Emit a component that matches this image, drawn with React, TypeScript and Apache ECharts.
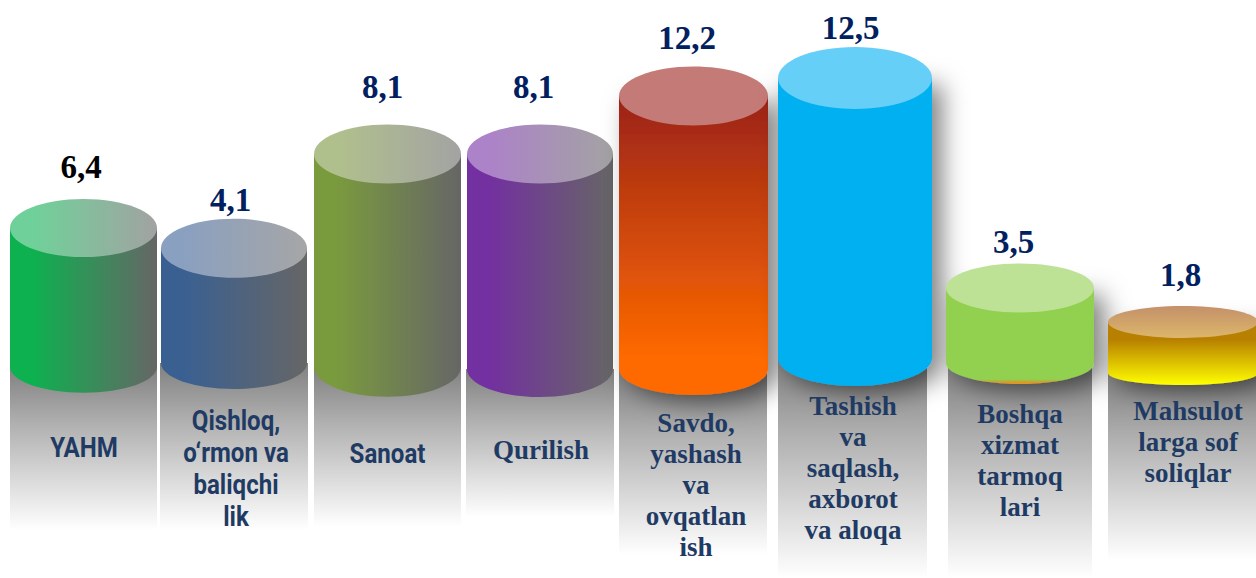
import React, { useEffect, useRef } from "react";
import * as echarts from "echarts";

// Data
const categories = [
  "YAHM",
  "Qishloq,\no‘rmon va\nbaliqchi\nlik",
  "Sanoat",
  "Qurilish",
  "Savdo,\nyashash\nva\novqatlan\nish",
  "Tashish\nva\nsaqlash,\naxborot\nva aloqa",
  "Boshqa\nxizmat\ntarmoq\nlari",
  "Mahsulot\nlarga sof\nsoliqlar",
];
const valueLabels = ["6,4", "4,1", "8,1", "8,1", "12,2", "12,5", "3,5", "1,8"];
// Height of each drawn cylinder, on the chart's hidden value axis
const topLevels = [5.74, 4.83, 9.07, 9.07, 11.68, 12.49, 3.05, 1.52];
const baseLevels = [-0.5, -0.33, -0.5, -0.6, -0.6, -0.1, -0.33, -0.78];
const reflectionEnds = [-7.84, -7.84, -7.7, -7.25, -8.96, -10, -10, -9.2];

// Styling table: not data
const side = (a: string, b = "#666666") =>
  new echarts.graphic.LinearGradient(0, 0, 1, 0, [
    { offset: 0, color: a },
    { offset: 0.15, color: a },
    { offset: 1, color: b },
  ]);
const vert = (stops: [number, string][]) =>
  new echarts.graphic.LinearGradient(0, 0, 0, 1, stops.map(([offset, color]) => ({ offset, color })));

const looks = [
  { dx: 5, hw: 73.5, ry: 29, rb: 26, body: side("#0db14f"), cap: side("#6fd199", "#a2a2a2"), lx: 2.5, ly: -61, c: "#000000", tx: 0.5, ty: 447, f: "roboto", rl: 73.5, rr: 73.5 },
  { dx: -1.5, hw: 73, ry: 29.5, rb: 26, body: side("#3a6092"), cap: side("#8aa0c0", "#a6a6a6"), lx: -5, ly: -48.5, c: "#002060", tx: 2, ty: 468, f: "roboto", rl: 74, rr: 74 },
  { dx: -5, hw: 73.5, ry: 29.5, rb: 30, body: side("#7a9a3e"), cap: side("#b0c08c", "#a3a3a3"), lx: -10, ly: -67, c: "#002060", tx: 0, ty: 453, f: "roboto", rl: 73.5, rr: 73.5 },
  { dx: -9.5, hw: 73, ry: 29.5, rb: 28, body: side("#7330a0"), cap: side("#ac82c8", "#a3a3a3"), lx: -16, ly: -67, c: "#002060", tx: 1, ty: 450, f: "serif", rl: 74, rr: 74 },
  { dx: -13, hw: 74.5, ry: 29.5, rb: 26, body: vert([[0, "#9a2218"], [0.88, "#ff6a00"], [1, "#ff6a00"]]), cap: "#c47a76", lx: -19.5, ly: -58, c: "#002060", tx: 2.5, ty: 485, f: "serif", rl: 74.5, rr: 73.5, sh: 1 },
  { dx: -8.5, hw: 77, ry: 31, rb: 28, body: "#02b0f0", cap: "#66cff8", lx: -13, ly: -50, c: "#002060", tx: -2, ty: 468, f: "serif", rl: 77, rr: 72, sh: 1 },
  { dx: -0.5, hw: 74, ry: 24.5, rb: 21, body: vert([[0, "#92d050"], [0.95, "#92d050"], [0.975, "#c0a838"], [1, "#f88a18"]]), cap: "#bde296", lx: -7, ly: -46, c: "#002060", tx: 0, ty: 460, f: "serif", rl: 72, rr: 72, sh: 1 },
  { dx: 5.5, hw: 75, ry: 16, rb: 12, body: vert([[0, "#b88000"], [0.28, "#b88000"], [1, "#ffff00"]]), cap: vert([[0, "#c4906a"], [1, "#dcb66a"]]), lx: 3, ly: -47, c: "#002060", tx: 5, ty: 442, f: "serif", rl: 75, rr: 75, sh: 1 },
];

echarts.graphic.registerShape(
  "cylBody",
  echarts.graphic.extendShape({
    shape: { cx: 0, top: 0, base: 0, hw: 0, rb: 0 },
    buildPath(ctx: any, s: any) {
      const k = 0.5523;
      ctx.moveTo(s.cx - s.hw, s.top);
      ctx.lineTo(s.cx - s.hw, s.base);
      ctx.bezierCurveTo(s.cx - s.hw, s.base + s.rb * k, s.cx - s.hw * k, s.base + s.rb, s.cx, s.base + s.rb);
      ctx.bezierCurveTo(s.cx + s.hw * k, s.base + s.rb, s.cx + s.hw, s.base + s.rb * k, s.cx + s.hw, s.base);
      ctx.lineTo(s.cx + s.hw, s.top);
      ctx.closePath();
    },
  }) as any
);

const renderItem = (_: any, api: any) => {
  const i = api.value(0);
  const look = looks[i];
  const [band, top] = api.coord([i, api.value(1)]);
  const base = api.coord([i, api.value(2)])[1];
  const end = api.coord([i, api.value(3)])[1];
  const cx = band + look.dx;
  const children: any[] = [
    {
      type: "rect",
      shape: { x: cx - look.rl, y: base, width: look.rl + look.rr, height: end - base },
      style: {
        fill: vert([[0, "#808080"], [0.35, "#b0b0b0"], [1, "#ffffff"]]),
      },
    },
    {
      type: "cylBody",
      shape: { cx, top, base, hw: look.hw, rb: look.rb },
      style: {
        fill: look.body,
        ...(look.sh
          ? { shadowColor: "rgba(0,0,0,0.5)", shadowBlur: 24, shadowOffsetX: 10, shadowOffsetY: 7 }
          : {}),
      },
    },
    {
      type: "ellipse",
      shape: { cx, cy: top, rx: look.hw, ry: look.ry },
      style: { fill: look.cap },
    },
    {
      type: "text",
      x: band + look.lx,
      y: top + look.ly,
      style: {
        text: valueLabels[i],
        font: 'bold 33px "Liberation Serif"',
        fill: look.c,
        align: "center",
        verticalAlign: "middle",
      },
    },
    {
      type: "text",
      x: band + look.dx + look.tx,
      y: look.ty,
      scaleX: look.f === "roboto" ? 0.86 : 1,
      style: {
        text: categories[i],
        font: look.f === "roboto" ? 'bold 28px Roboto' : 'bold 27px "Liberation Serif"',
        lineHeight: look.f === "roboto" ? 32 : 31,
        fill: "#1f3b64",
        align: "center",
        verticalAlign: "middle",
      },
    },
  ];
  return { type: "group", children };
};

export default function App() {
  const ref = useRef<HTMLDivElement>(null);
  useEffect(() => {
    const chart = echarts.init(ref.current!, undefined, { renderer: "svg" });
    chart.setOption({
      animation: false,
      backgroundColor: "#ffffff",
      grid: { left: 0, right: 0, top: 0, bottom: 0 },
      xAxis: { type: "category", data: categories, show: false },
      yAxis: { type: "value", min: -10, max: 16, show: false },
      series: [
        {
          type: "custom",
          renderItem,
          clip: false,
          encode: { x: 0, y: 1 },
          data: categories.map((_, i) => [i, topLevels[i], baseLevels[i], reflectionEnds[i]]),
        },
      ],
    });
    return () => chart.dispose();
  }, []);
  return <div ref={ref} style={{ position: "fixed", left: 0, top: 0, width: 1256, height: 578 }} />;
}
